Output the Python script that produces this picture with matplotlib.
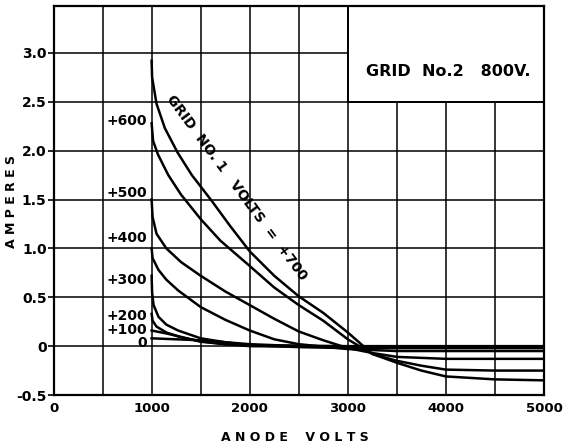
import numpy as np
import matplotlib.pyplot as plt
from matplotlib.patches import Rectangle

# anode volts / amperes, one pair per grid No.1 voltage
v_700 = [1000, 1005, 1050, 1135, 1265, 1410, 1610, 1800, 2000, 2250, 2500, 2750, 3000, 3250, 3500, 3750, 4000, 4500, 5000]
i_700 = [2.92, 2.75, 2.48, 2.23, 1.98, 1.75, 1.49, 1.23, 0.97, 0.72, 0.51, 0.34, 0.14, -0.08, -0.17, -0.25, -0.31, -0.34, -0.35]

v_600 = [1000, 1015, 1065, 1170, 1300, 1500, 1700, 2000, 2250, 2500, 2750, 3000, 3250, 3500, 3750, 4000, 4500, 5000]
i_600 = [2.28, 2.10, 1.96, 1.75, 1.55, 1.30, 1.08, 0.82, 0.60, 0.42, 0.26, 0.07, -0.08, -0.15, -0.20, -0.24, -0.25, -0.25]

v_500 = [1000, 1010, 1050, 1150, 1300, 1500, 1750, 2000, 2250, 2500, 2750, 3000, 3250, 3500, 4000, 5000]
i_500 = [1.50, 1.32, 1.15, 1.00, 0.86, 0.72, 0.56, 0.42, 0.28, 0.15, 0.06, -0.02, -0.07, -0.11, -0.13, -0.13]

v_400 = [1000, 1010, 1070, 1150, 1270, 1500, 1750, 2000, 2250, 2500, 3000, 3500, 4000, 5000]
i_400 = [1.00, 0.90, 0.78, 0.68, 0.57, 0.40, 0.27, 0.16, 0.07, 0.02, -0.03, -0.05, -0.05, -0.05]

v_300 = [1000, 1005, 1020, 1070, 1150, 1270, 1500, 1750, 2000, 2500, 3000, 4000, 5000]
i_300 = [0.72, 0.55, 0.42, 0.30, 0.22, 0.16, 0.08, 0.04, 0.01, -0.01, -0.02, -0.02, -0.02]

v_200 = [1000, 1010, 1050, 1150, 1300, 1500, 1750, 2000, 3000, 5000]
i_200 = [0.33, 0.26, 0.20, 0.14, 0.09, 0.05, 0.02, 0.00, -0.01, -0.01]

v_100 = [1000, 1150, 1320, 1500, 1750, 2000, 3000, 5000]
i_100 = [0.16, 0.13, 0.09, 0.045, 0.02, 0.01, 0.00, 0.00]

v_0 = [1000, 1500, 2000, 2500, 3000, 5000]
i_0 = [0.08, 0.06, 0.02, 0.00, -0.01, -0.01]

curves = [(v_700, i_700), (v_600, i_600), (v_500, i_500), (v_400, i_400),
          (v_300, i_300), (v_200, i_200), (v_100, i_100), (v_0, i_0)]

# curve labels on the left of the 1000 V line
curve_labels = ['+600', '+500', '+400', '+300', '+200', '+100', '0']
label_y = [2.30, 1.57, 1.11, 0.68, 0.31, 0.17, 0.03]

x_ticks = [0, 1000, 2000, 3000, 4000, 5000]
y_ticks = [-0.5, 0, 0.5, 1.0, 1.5, 2.0, 2.5, 3.0]
y_tick_labels = ['-0.5', '0', '0.5', '1.0', '1.5', '2.0', '2.5', '3.0']

plt.rcParams['font.family'] = 'DejaVu Sans'
plt.rcParams['font.weight'] = 'bold'

fig = plt.figure(figsize=(5.67, 4.47), dpi=100)
ax = fig.add_axes([0.0944, 0.1163, 0.865, 0.8703])

ax.set_xlim(0, 5000)
ax.set_ylim(-0.5, 3.48)

ax.set_xticks(x_ticks)
ax.set_xticks(np.arange(0, 5001, 500), minor=True)
ax.set_yticks(y_ticks)
ax.set_yticklabels(y_tick_labels)
ax.tick_params(axis='x', which='both', length=0, pad=5, labelsize=9.5)
ax.tick_params(axis='y', length=4, width=1.2, pad=1, labelsize=10)
ax.grid(True, which='both', color='black', linewidth=1.1)
ax.set_axisbelow(True)
for s in ax.spines.values():
    s.set_linewidth(1.6)

# text box in the upper right, no grid inside
ax.add_patch(Rectangle((3000, 2.5), 2000, 1.0, facecolor='white',
                       edgecolor='black', linewidth=1.4, zorder=1))
ax.text(4020, 2.81, 'GRID  No.2   800V.', ha='center', va='center',
        fontsize=11.5, zorder=3)

for v, i in curves:
    ax.plot(v, i, color='black', linewidth=1.8, zorder=2)

for lab, y in zip(curve_labels, label_y):
    ax.text(955, y, lab, ha='right', va='center', fontsize=10, zorder=3)

ax.text(1870, 1.62, 'GRID  NO. 1   VOLTS  =  +700', rotation=-53.5,
        rotation_mode='anchor', ha='center', va='center', fontsize=10, zorder=3)

fig.text(0.52, 0.022, 'A N O D E    V O L T S', ha='center', va='center', fontsize=9)
fig.text(0.021, 0.55, 'A M P E R E S', rotation=90, ha='center', va='center', fontsize=9)

plt.savefig('out.png', dpi=100)
